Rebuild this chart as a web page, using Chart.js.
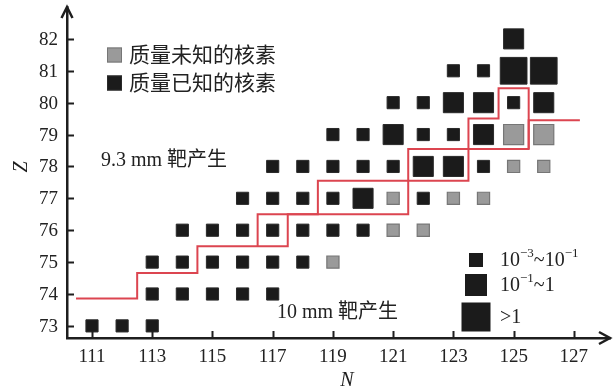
<!DOCTYPE html>
<html>
<head>
<meta charset="utf-8">
<script src="https://cdn.jsdelivr.net/npm/chart.js@4"></script>
<style>
  html, body { margin: 0; padding: 0; background: #fff; }
  canvas { display: block; }
</style>
</head>
<body>
<canvas id="chart" width="615" height="390"></canvas>
<script>
// Nuclides with known mass: neutron number N, proton number Z, yield class
const knownN = [111, 112, 113,
  113, 114, 115, 116, 117,
  113, 114, 115, 116, 117, 118,
  114, 115, 116, 117, 118, 119, 120,
  116, 117, 118, 119, 120, 122,
  117, 118, 119, 120, 121, 122, 123, 124,
  119, 120, 121, 122, 123, 124,
  121, 122, 123, 124, 125, 126,
  123, 124, 125, 126,
  125];
const knownZ = [73, 73, 73,
  74, 74, 74, 74, 74,
  75, 75, 75, 75, 75, 75,
  76, 76, 76, 76, 76, 76, 76,
  77, 77, 77, 77, 77, 77,
  78, 78, 78, 78, 78, 78, 78, 78,
  79, 79, 79, 79, 79, 79,
  80, 80, 80, 80, 80, 80,
  81, 81, 81, 81,
  82];
const knownYield = ['low', 'low', 'low',
  'low', 'low', 'low', 'low', 'low',
  'low', 'low', 'low', 'low', 'low', 'low',
  'low', 'low', 'low', 'low', 'low', 'low', 'low',
  'low', 'low', 'low', 'low', 'mid', 'low',
  'low', 'low', 'low', 'low', 'low', 'mid', 'mid', 'low',
  'low', 'low', 'mid', 'low', 'low', 'mid',
  'low', 'low', 'mid', 'mid', 'low', 'mid',
  'low', 'low', 'high', 'high',
  'mid'];

// Nuclides with unknown mass
const unknownN = [119, 121, 122, 121, 123, 124, 125, 126, 125, 126];
const unknownZ = [75, 76, 76, 77, 77, 77, 78, 78, 79, 79];
const unknownYield = ['low', 'low', 'low', 'low', 'low', 'low', 'low', 'low', 'mid', 'mid'];

// Boundaries between the 9.3 mm and 10 mm target production regions
const boundaryAN = [110.47, 112.5, 112.5, 114.5, 114.5, 117.5, 117.5, 121.5, 121.5, 125.5, 125.5, 127.2];
const boundaryAZ = [73.86, 73.86, 74.66, 74.66, 75.5, 75.5, 76.5, 76.5, 78.55, 78.55, 79.45, 79.45];
const boundaryBN = [116.5, 116.5, 118.5, 118.5, 123.5, 123.5, 124.5, 124.5, 125.5, 125.5];
const boundaryBZ = [75.5, 76.5, 76.5, 77.55, 77.55, 79.5, 79.5, 80.45, 80.45, 78.55];

// Axis ticks
const nTicks = [111, 113, 115, 117, 119, 121, 123, 125, 127];
const zTicks = [73, 74, 75, 76, 77, 78, 79, 80, 81, 82];

// Legend texts
const massLegend = ['质量未知的核素', '质量已知的核素'];
const yieldOrder = ['low', 'mid', 'high'];
const yieldLegend = {
  low: [{ t: '10' }, { t: '−3', sup: true }, { t: '~10' }, { t: '−1', sup: true }],
  mid: [{ t: '10' }, { t: '−1', sup: true }, { t: '~1' }],
  high: [{ t: '>1' }]
};
const regionUpper = '9.3 mm 靶产生';
const regionLower = '10 mm 靶产生';
const axisNameX = 'N';
const axisNameY = 'Z';

// Styles
const SERIF = '"Liberation Serif", "Noto Sans CJK SC", serif';
const INK = '#1e1e1e';
const BLACK_FILL = '#1b1b1b';
const GRAY_FILL = '#9a9a9a';
const GRAY_EDGE = '#767676';
const RED = '#dc4550';
const radiusOf = { low: 8.6, mid: 14.2, high: 18.9 };      // rect side = r * sqrt(2)
const legendSide = { low: 14, mid: 22, high: 29 };

const pts = (ns, zs) => ns.map((n, i) => ({ x: n, y: zs[i] }));

const decor = {
  id: 'decor',
  afterDraw(chart) {
    const { ctx, chartArea: a, scales: { x, y } } = chart;
    ctx.save();
    ctx.strokeStyle = INK;
    ctx.fillStyle = INK;
    ctx.lineWidth = 2;
    // tick marks pointing into the plot
    ctx.beginPath();
    x.ticks.forEach(t => {
      const px = Math.round(x.getPixelForValue(t.value)) + 0.5;
      ctx.moveTo(px, a.bottom - 7); ctx.lineTo(px, a.bottom + 1);
    });
    y.ticks.forEach(t => {
      const py = Math.round(y.getPixelForValue(t.value)) + 0.5;
      ctx.moveTo(a.left, py); ctx.lineTo(a.left + 7, py);
    });
    ctx.stroke();
    // arrow heads
    ctx.lineWidth = 2.5;
    ctx.lineJoin = 'miter';
    ctx.beginPath();
    ctx.moveTo(a.left - 5.5, a.top + 11); ctx.lineTo(a.left, a.top); ctx.lineTo(a.left + 5.5, a.top + 11);
    ctx.moveTo(a.right - 11, a.bottom - 6); ctx.lineTo(a.right, a.bottom); ctx.lineTo(a.right - 11, a.bottom + 6);
    ctx.stroke();

    // tick labels
    ctx.fillStyle = '#222';
    ctx.font = '19px ' + SERIF;
    ctx.textBaseline = 'middle';
    ctx.textAlign = 'center';
    x.ticks.forEach(t => ctx.fillText(String(t.value), x.getPixelForValue(t.value), a.bottom + 19));
    ctx.textAlign = 'right';
    y.ticks.forEach(t => ctx.fillText(String(t.value), a.left - 9, y.getPixelForValue(t.value) + 1));

    // axis names
    ctx.fillStyle = INK;
    ctx.textAlign = 'center';
    ctx.font = 'italic 20px ' + SERIF;
    ctx.fillText(axisNameX, 347, 381);
    ctx.save();
    ctx.translate(22, 167);
    ctx.rotate(-Math.PI / 2);
    ctx.fillText(axisNameY, 0, 0);
    ctx.restore();

    // mass legend
    ctx.textAlign = 'left';
    const massFill = [GRAY_FILL, BLACK_FILL];
    const massEdge = [GRAY_EDGE, '#2a2a2a'];
    massLegend.forEach((label, i) => {
      const cy = 55 + i * 28;
      ctx.fillStyle = massFill[i];
      ctx.fillRect(107, cy - 7.5, 15, 15);
      ctx.strokeStyle = massEdge[i];
      ctx.lineWidth = 1;
      ctx.strokeRect(107.5, cy - 7, 14, 14);
      ctx.fillStyle = '#222';
      ctx.font = '21px ' + SERIF;
      ctx.fillText(label, 129, cy + 1);
    });

    // region captions
    ctx.font = '20px ' + SERIF;
    ctx.fillText(regionUpper, 101, 161);
    ctx.fillText(regionLower, 277, 313);

    // yield legend
    const rowY = { low: 260, mid: 285, high: 317 };
    yieldOrder.forEach(k => {
      const s = legendSide[k];
      ctx.fillStyle = BLACK_FILL;
      ctx.fillRect(476 - s / 2, rowY[k] - s / 2, s, s);
      let cx = 500;
      ctx.fillStyle = '#222';
      yieldLegend[k].forEach(p => {
        const fs = p.sup ? 13 : 20;
        ctx.font = fs + 'px ' + SERIF;
        ctx.fillText(p.t, cx, p.sup ? rowY[k] - 6 : rowY[k] + 1);
        cx += ctx.measureText(p.t).width;
      });
    });
    ctx.restore();
  }
};

new Chart(document.getElementById('chart'), {
  type: 'scatter',
  data: {
    datasets: [
      {
        label: massLegend[1],
        data: pts(knownN, knownZ),
        pointStyle: 'rect',
        pointRadius: knownYield.map(k => radiusOf[k]),
        pointHoverRadius: knownYield.map(k => radiusOf[k]),
        backgroundColor: BLACK_FILL,
        borderColor: '#2a2a2a',
        borderWidth: 1,
        order: 2
      },
      {
        label: massLegend[0],
        data: pts(unknownN, unknownZ),
        pointStyle: 'rect',
        pointRadius: unknownYield.map(k => radiusOf[k]),
        pointHoverRadius: unknownYield.map(k => radiusOf[k]),
        backgroundColor: GRAY_FILL,
        borderColor: GRAY_EDGE,
        borderWidth: 1.2,
        order: 2
      },
      {
        type: 'line',
        label: 'boundary A',
        data: pts(boundaryAN, boundaryAZ),
        borderColor: RED,
        borderWidth: 2,
        pointRadius: 0,
        fill: false,
        tension: 0,
        order: 1
      },
      {
        type: 'line',
        label: 'boundary B',
        data: pts(boundaryBN, boundaryBZ),
        borderColor: RED,
        borderWidth: 2,
        pointRadius: 0,
        fill: false,
        tension: 0,
        order: 1
      }
    ]
  },
  options: {
    responsive: false,
    animation: false,
    devicePixelRatio: 1,
    layout: { autoPadding: false, padding: { left: 0, top: 7, right: 5, bottom: 0 } },
    plugins: { legend: { display: false }, tooltip: { enabled: false } },
    scales: {
      x: {
        type: 'linear',
        min: 110.17,
        max: 128.2,
        afterBuildTicks: s => { s.ticks = nTicks.map(v => ({ value: v })); },
        afterFit: s => { s.height = 52; },
        grid: { display: false, drawTicks: false },
        border: { display: true, color: INK, width: 2.5 },
        ticks: { display: false }
      },
      y: {
        type: 'linear',
        min: 72.62,
        max: 83,
        afterBuildTicks: s => { s.ticks = zTicks.map(v => ({ value: v })); },
        afterFit: s => { s.width = 67; },
        grid: { display: false, drawTicks: false },
        border: { display: true, color: INK, width: 2.5 },
        ticks: { display: false }
      }
    }
  },
  plugins: [decor]
});
</script>
</body>
</html>
